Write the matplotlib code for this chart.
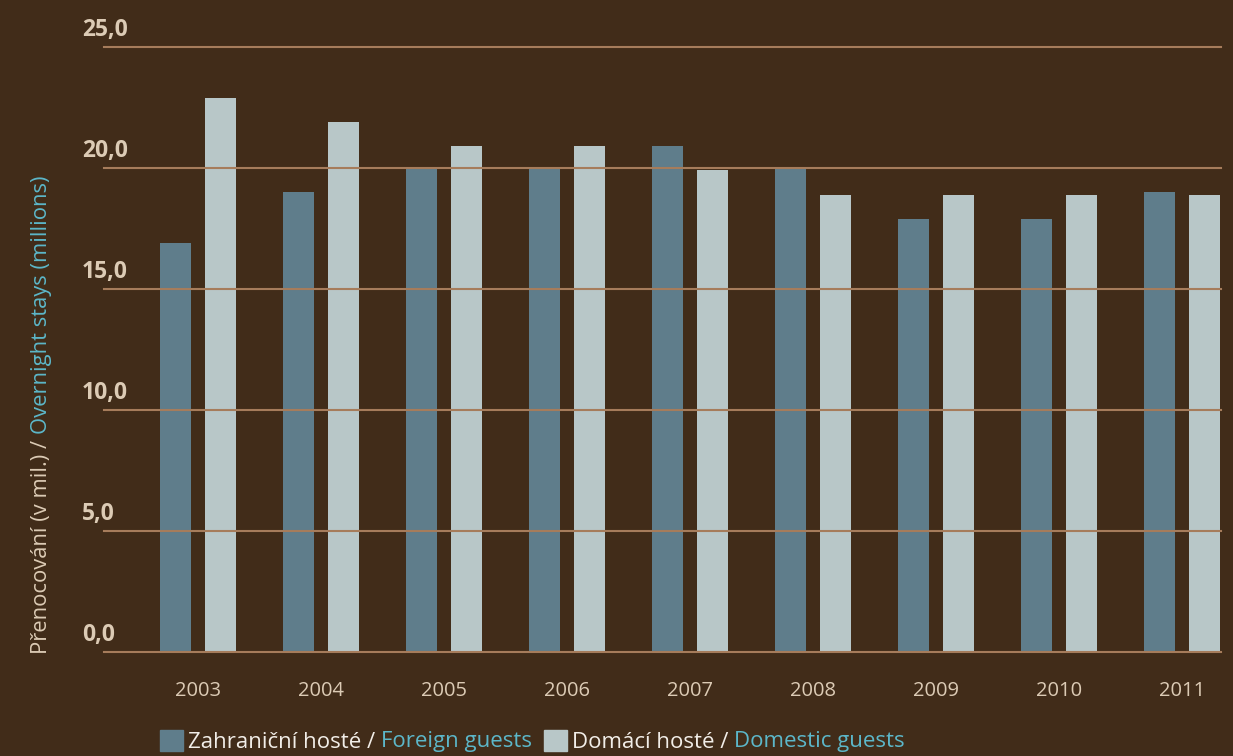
import matplotlib
matplotlib.use("Agg")
import matplotlib.pyplot as plt
import numpy as np
from matplotlib.patches import Rectangle

years = ["2003", "2004", "2005", "2006", "2007", "2008", "2009", "2010", "2011"]
foreign = [16.9, 19.0, 20.0, 20.0, 20.9, 20.0, 17.9, 17.9, 19.0]
domestic = [22.9, 21.9, 20.9, 20.9, 19.9, 18.9, 18.9, 18.9, 18.9]
yticks = [0, 5, 10, 15, 20, 25]
ytick_labels = ["0,0", "5,0", "10,0", "15,0", "20,0", "25,0"]

BG = "#412c19"
GRID = "#a67c5b"
C_FOR = "#5f7d8b"
C_DOM = "#b8c7c8"
BEIGE = "#dccbb5"
WHITE = "#f2eee8"
CYAN = "#5cb7c9"
FONT = "Open Sans"

W, H = 1233, 756
fig = plt.figure(figsize=(W / 100, H / 100), dpi=100, facecolor=BG)
ax = fig.add_axes([104 / W, 1 - 652 / H, (1221 - 104) / W, (652 - 47) / H])
ax.set_facecolor(BG)

x = np.arange(len(years))
bw = 0.252
off = 0.183
ax.bar(x - off, foreign, bw, color=C_FOR, zorder=2)
ax.bar(x + off, domestic, bw, color=C_DOM, zorder=2)

for t in yticks:
    ax.axhline(t, color=GRID, lw=1.5, zorder=3, clip_on=False)

ax.set_ylim(0, 25)
ax.set_xlim(-0.764, 8.317)
for s in ax.spines.values():
    s.set_visible(False)
ax.set_yticks([])
ax.set_xticks(x)
ax.set_xticklabels(years, fontsize=14.5, color=BEIGE, family=FONT)
ax.tick_params(axis="x", length=0, pad=21)

# y tick labels placed above gridlines
for t, lab in zip(yticks, ytick_labels):
    ax.annotate(lab, xy=(0, t), xycoords=("axes fraction", "data"),
                xytext=(-22, 5), textcoords="offset pixels",
                ha="left", va="bottom", fontsize=16.5, fontweight="bold",
                color=BEIGE, family=FONT, zorder=4)

fig.canvas.draw()
renderer = fig.canvas.get_renderer()

# y-axis label in two colours (rotated)
t1 = fig.text(42 / W, 1 - 654 / H, "Přenocování (v mil.) / ", rotation=90,
              rotation_mode="anchor", ha="left", va="center",
              fontsize=15.8, color=BEIGE, family=FONT)
bb = t1.get_window_extent(renderer)
fig.text(42 / W, (bb.y1) / H, "Overnight stays (millions)", rotation=90,
         rotation_mode="anchor", ha="left", va="center",
         fontsize=15.8, color=CYAN, family=FONT)

# legend
def legend_item(x0, color, part1, part2):
    fig.patches.append(Rectangle((x0 / W, 1 - 751 / H), 23 / W, 21 / H,
                                 transform=fig.transFigure, color=color,
                                 figure=fig))
    ta = fig.text((x0 + 28) / W, 1 - 742 / H, part1, ha="left", va="center",
                  fontsize=16, color=WHITE, family=FONT)
    b = ta.get_window_extent(renderer)
    tb = fig.text(b.x1 / W, 1 - 742 / H, part2, ha="left", va="center",
                  fontsize=16, color=CYAN, family=FONT)
    return tb.get_window_extent(renderer).x1

end = legend_item(160, C_FOR, "Zahraniční hosté / ", "Foreign guests")
legend_item(end + 12, C_DOM, "Domácí hosté / ", "Domestic guests")

fig.savefig("out.png", dpi=100, facecolor=BG)
